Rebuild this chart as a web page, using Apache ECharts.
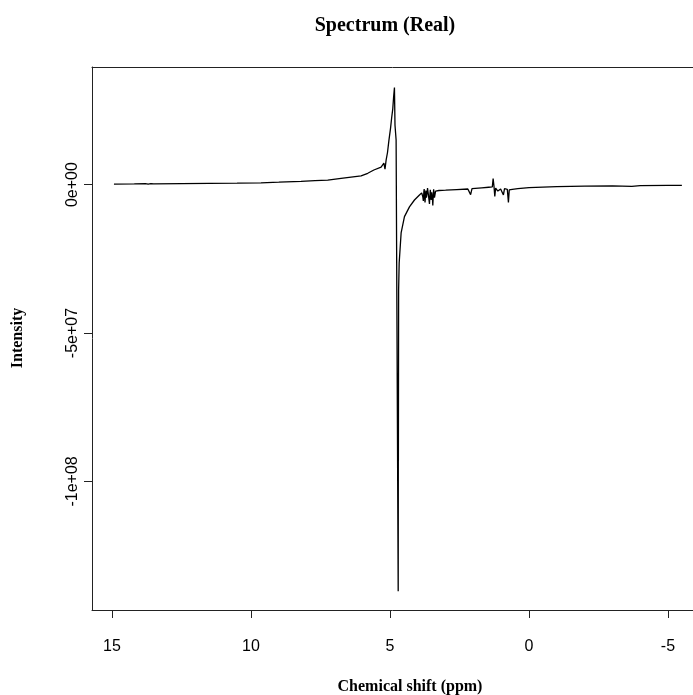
<!DOCTYPE html>
<html>
<head>
<meta charset="utf-8">
<script src="https://cdn.jsdelivr.net/npm/echarts@6/dist/echarts.min.js"></script>
<style>
  html, body { margin: 0; padding: 0; background: #fff; }
  #chart { width: 693px; height: 695px; }
</style>
</head>
<body>
<div id="chart"></div>
<script>
// Chemical shift (ppm) of each sampled point, high to low
const shiftPpm = [
  14.93, 14.2, 13.8, 13.7, 13.6, 13.5, 12.5, 11.5, 10.5, 9.64, 9.0, 8.2, 7.7, 7.24,
  6.76, 6.4, 6.04, 5.8, 5.58, 5.32, 5.22, 5.18, 5.14, 5.09, 5.04, 4.98, 4.94, 4.90,
  4.87, 4.84, 4.82, 4.78, 4.705, 4.70, 4.698, 4.69, 4.67, 4.60, 4.48, 4.30, 4.12,
  3.94, 3.86, 3.84, 3.82, 3.80, 3.78, 3.77, 3.75, 3.74, 3.72, 3.71, 3.69, 3.68,
  3.66, 3.65, 3.63, 3.62, 3.60, 3.58, 3.56, 3.55, 3.53, 3.52, 3.50, 3.49, 3.47,
  3.46, 3.44, 3.43, 3.41, 3.40, 3.36, 3.30, 3.24, 3.20, 3.0, 2.6, 2.2, 2.1, 2.05,
  1.7, 1.45, 1.32, 1.29, 1.26, 1.23, 1.20, 1.12, 1.02, 0.92, 0.88, 0.78, 0.74,
  0.71, 0.60, 0.40, 0.0, -1.0, -2.0, -3.0, -3.7, -4.0, -5.0, -5.5
];

// Real intensity at each shift, in units of 1e6
const intensityE6 = [
  0.17, 0.22, 0.30, 0.12, 0.32, 0.20, 0.30, 0.38, 0.48, 0.60, 0.80, 1.08, 1.30, 1.50,
  2.10, 2.50, 2.90, 3.80, 4.90, 5.90, 7.20, 5.20, 8.20, 10.8, 14.8, 19.0, 22.5, 25.5,
  29.5, 32.7, 20.0, 15.0, -137.0, -86.0, -93.0, -35.5, -26.4, -16.3, -10.8, -7.5, -5.2,
  -3.5, -2.8, -2.6, -4.1, -5.5, -2.2, -1.5, -4.8, -6.0, -3.1, -2.0, -4.4, -5.0,
  -2.4, -1.2, -2.6, -3.0, -4.9, -6.5, -2.9, -1.8, -3.7, -5.2, -2.6, -2.0, -5.1,
  -7.0, -3.0, -1.6, -3.2, -4.4, -2.2, -2.5, -2.0, -2.3, -1.9, -1.7, -1.5, -3.4, -1.4,
  -1.1, -0.9, -0.8, 2.0, -0.5, -4.0, -1.2, -2.2, -1.5, -3.5, -1.4, -1.6, -6.0,
  -1.8, -1.6, -1.4, -1.0, -0.7, -0.55, -0.45, -0.6, -0.35, -0.3, -0.3
];

// Axis ticks and their printed labels
const xTicks = [15, 10, 5, 0, -5];
const xTickLabels = ['15', '10', '5', '0', '-5'];
const yTicks = [0, -50, -100];
const yTickLabels = ['0e+00', '-5e+07', '-1e+08'];

const titleText = 'Spectrum (Real)';
const xTitle = 'Chemical shift (ppm)';
const yTitle = 'Intensity';

const points = shiftPpm.map((p, i) => [p, intensityE6[i]]);

const chart = echarts.init(document.getElementById('chart'), null, { renderer: 'canvas' });

const tickFont = { fontFamily: 'Liberation Sans, Arial, sans-serif', fontSize: 16, color: '#000' };
const frameColor = '#222';
const serifBold = '"Liberation Serif", "Times New Roman", serif';

chart.setOption({
  animation: false,
  backgroundColor: '#fff',
  grid: { left: 92, right: 0, top: 67, bottom: 85, show: false },
  xAxis: [
    {
      type: 'value',
      inverse: true,
      min: -5.9,
      max: 15.72,
      position: 'bottom',
      splitLine: { show: false },
      axisLine: { show: true, onZero: false, lineStyle: { color: frameColor, width: 1 } },
      axisTick: { show: true, customValues: xTicks, length: 8, lineStyle: { color: frameColor } },
      axisLabel: {
        customValues: xTicks,
        margin: 29,
        formatter: v => xTickLabels[xTicks.indexOf(v)] ?? '',
        ...tickFont
      }
    },
    {
      // top edge of the plot frame
      type: 'value',
      inverse: true,
      min: -5.9,
      max: 15.72,
      position: 'top',
      splitLine: { show: false },
      axisLine: { show: true, onZero: false, lineStyle: { color: frameColor, width: 1 } },
      axisTick: { show: false },
      axisLabel: { show: false }
    }
  ],
  yAxis: {
    type: 'value',
    min: -143.3,
    max: 39.6,
    splitLine: { show: false },
    axisLine: { show: true, onZero: false, lineStyle: { color: frameColor, width: 1 } },
    axisTick: { show: true, customValues: yTicks, length: 8, lineStyle: { color: frameColor } },
    axisLabel: {
      customValues: yTicks,
      rotate: 90,
      margin: 11,
      formatter: v => yTickLabels[yTicks.indexOf(v)] ?? '',
      ...tickFont
    }
  },
  series: [{
    type: 'line',
    xAxisIndex: 0,
    data: points,
    showSymbol: false,
    symbol: 'none',
    sampling: null,
    lineStyle: { color: '#000', width: 1.3 },
    emphasis: { disabled: true }
  }],
  graphic: [
    {
      type: 'text', position: [385, 26],
      style: { text: titleText, font: 'bold 20px ' + serifBold, fill: '#000', align: 'center', verticalAlign: 'middle' }
    },
    {
      type: 'text', position: [410, 687],
      style: { text: xTitle, font: 'bold 16px ' + serifBold, fill: '#000', align: 'center', verticalAlign: 'middle' }
    },
    {
      type: 'text', position: [18, 338], rotation: Math.PI / 2,
      style: { text: yTitle, font: 'bold 16px ' + serifBold, fill: '#000', align: 'center', verticalAlign: 'middle' }
    }
  ]
});
</script>
</body>
</html>
